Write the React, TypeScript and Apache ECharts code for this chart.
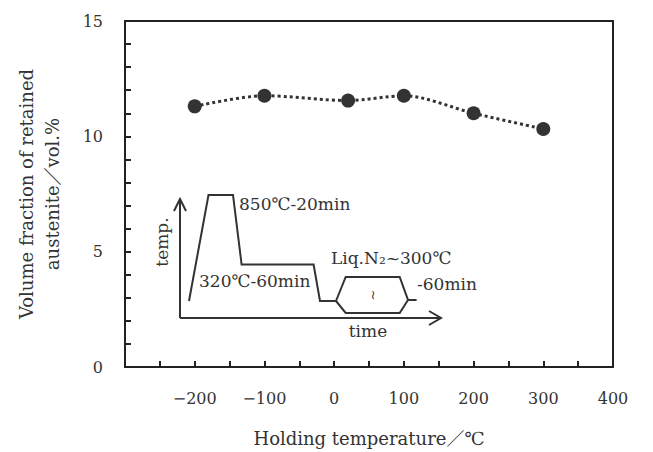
import React, { useEffect, useRef } from "react";
import * as echarts from "echarts";

const holdingTemps = [-200, -100, 20, 100, 200, 300];
const retainedAustenite = [11.3, 11.76, 11.55, 11.76, 11.0, 10.32];
const yAxisTitleLines = ["Volume fraction of retained", "austenite／vol.%"];
const xAxisTitle = "Holding temperature／℃";
const insetLabels = ["850℃-20min", "320℃-60min", "Liq.N₂~300℃", "-60min", "temp.", "time"];

const FONT = "'DejaVu Serif', 'Liberation Serif', 'Noto Sans CJK JP', serif";
const INK = "#333";

export default function App() {
  const ref = useRef<HTMLDivElement>(null);
  useEffect(() => {
    document.body.style.margin = "0";
    const chart = echarts.init(ref.current!, undefined, { renderer: "svg" });
    const line = (pts: number[][], w = 2) => ({
      type: "polyline",
      shape: { points: pts },
      style: { stroke: INK, lineWidth: w, fill: "none" },
      silent: true,
    });
    const txt = (s: string, x: number, y: number, extra: any = {}) => ({
      type: "text",
      x,
      y,
      style: { text: s, fill: INK, font: `17px ${FONT}`, textVerticalAlign: "middle", ...extra },
      silent: true,
    });
    chart.setOption({
      animation: false,
      backgroundColor: "#fff",
      grid: { left: 125, right: 40, top: 21, bottom: 84, show: true, borderColor: "#222", borderWidth: 2 },
      xAxis: {
        type: "value",
        min: -300,
        max: 400,
        interval: 100,
        name: xAxisTitle,
        nameLocation: "middle",
        nameGap: 62,
        nameTextStyle: { fontFamily: FONT, fontSize: 18, color: INK },
        axisLine: { onZero: false, lineStyle: { color: "#222", width: 2 } },
        axisTick: { inside: true, length: 6, lineStyle: { color: "#222", width: 2 } },
        minorTick: { show: true, splitNumber: 2, length: 6, lineStyle: { color: "#222", width: 2 } },
        axisLabel: {
          fontFamily: FONT,
          fontSize: 16,
          color: INK,
          margin: 23,
          formatter: (v: number) => (v === -300 ? "" : v < 0 ? "−" + Math.abs(v) : String(v)),
        },
        splitLine: { show: false },
      },
      yAxis: {
        type: "value",
        min: 0,
        max: 15,
        interval: 5,
        name: yAxisTitleLines.join("\n"),
        nameLocation: "middle",
        nameGap: 60,
        nameTextStyle: { fontFamily: FONT, fontSize: 18, color: INK, lineHeight: 26 },
        axisLine: { onZero: false, lineStyle: { color: "#222", width: 2 } },
        axisTick: { inside: true, length: 6, lineStyle: { color: "#222", width: 2 } },
        minorTick: { show: true, splitNumber: 5, length: 6, lineStyle: { color: "#222", width: 2 } },
        axisLabel: { fontFamily: FONT, fontSize: 16, color: INK, margin: 22 },
        splitLine: { show: false },
      },
      series: [
        {
          type: "line",
          data: holdingTemps.map((x, i) => [x, retainedAustenite[i]]),
          smooth: 0.3,
          symbol: "circle",
          symbolSize: 14,
          itemStyle: { color: INK },
          lineStyle: { color: INK, width: 3, type: [3, 3] },
        },
      ],
      graphic: [
        line([[180, 318], [180, 199]]),
        line([[174, 211], [180, 199], [186, 211]]),
        line([[180, 318], [441, 318]]),
        line([[429, 311], [441, 318], [429, 325]]),
        line([
          [189, 301], [208.5, 195], [233, 195], [241.6, 264.5], [313.6, 264.5], [320, 301], [336, 301],
        ]),
        {
          type: "polygon",
          shape: { points: [[336, 301], [345.7, 277], [399.7, 277], [408, 300], [399.7, 313], [345.7, 313]] },
          style: { stroke: INK, lineWidth: 2, fill: "none" },
          silent: true,
        },
        line([[408, 300], [416.6, 300]]),
        txt(insetLabels[0], 239, 204),
        txt(insetLabels[1], 199, 281),
        txt(insetLabels[2], 331, 258),
        txt(insetLabels[3], 417, 284),
        {
          type: "text",
          x: 162,
          y: 242,
          rotation: Math.PI / 2,
          style: { text: insetLabels[4], fill: INK, font: `17px ${FONT}`, align: "center", verticalAlign: "middle" },
          silent: true,
        },
        txt(insetLabels[5], 368, 331, { align: "center" }),
        {
          type: "text",
          x: 372,
          y: 295,
          rotation: Math.PI / 2,
          style: { text: "~", fill: INK, font: `13px ${FONT}`, align: "center", verticalAlign: "middle" },
          silent: true,
        },
      ],
    });
    return () => chart.dispose();
  }, []);
  return <div ref={ref} style={{ width: 653, height: 452 }} />;
}
